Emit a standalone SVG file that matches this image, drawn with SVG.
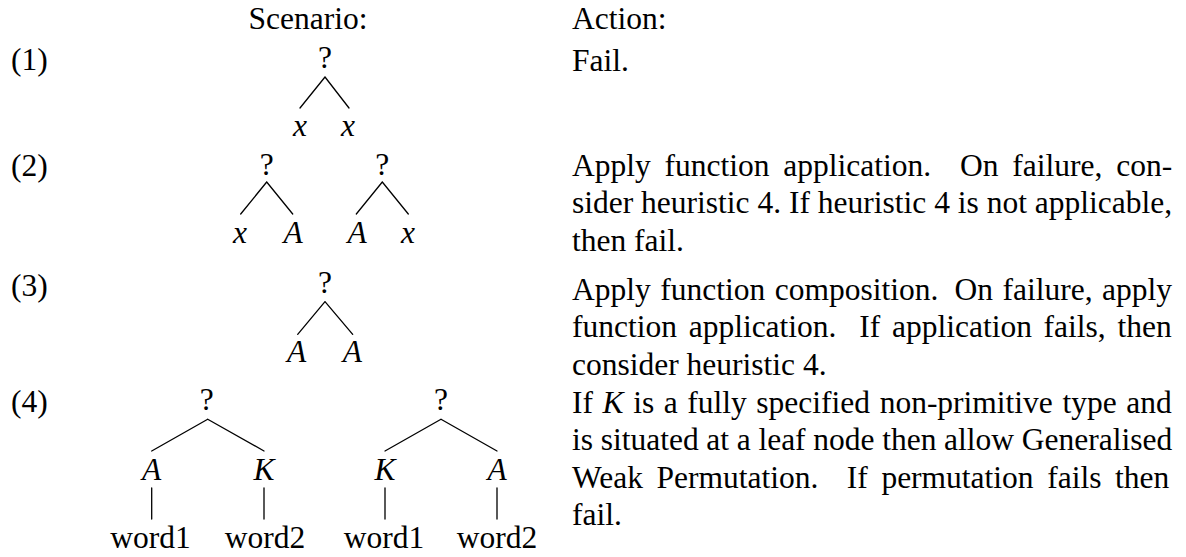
<svg xmlns="http://www.w3.org/2000/svg" width="1186" height="557" viewBox="0 0 1186 557">
  <style>
    text { font-family: "Liberation Serif", "Times New Roman", serif; font-size: 31.5px; fill: #000; }
    .m { font-style: italic; text-anchor: middle; }
    .r { text-anchor: middle; }
    .edge { stroke: #000; stroke-width: 1.3; fill: none; stroke-linecap: round; }
  </style>
  <rect width="1186" height="557" fill="#fff"/>

  <!-- column headings -->
  <g id="headings">
    <text x="308" y="28.5" class="r">Scenario:</text>
    <text x="572" y="28.5">Action:</text>
  </g>

  <!-- row numbers -->
  <g id="row-labels">
    <text x="11" y="70">(1)</text>
    <text x="11" y="175.5">(2)</text>
    <text x="11" y="296">(3)</text>
    <text x="11" y="412">(4)</text>
  </g>

  <!-- tree edges -->
  <g id="connectors">
    <path class="edge" d="M325 77 L300 108 M325 77 L349 108"/>
    <path class="edge" d="M266.7 182 L240.7 214 M266.7 182 L292.7 214"/>
    <path class="edge" d="M382.3 182 L356.3 214 M382.3 182 L408.3 214"/>
    <path class="edge" d="M325 301.7 L297.7 334.3 M325 301.7 L352.7 334.3"/>
    <path class="edge" d="M207.7 419.3 L151.7 451 M207.7 419.3 L264 451"/>
    <path class="edge" d="M441 419.3 L385 451 M441 419.3 L497 451"/>
    <path class="edge" d="M151.7 488 V519 M264 488 V519 M385 488 V519 M497 488 V519"/>
  </g>

  <!-- scenario (1) -->
  <g id="t1-root"><text x="325" y="68" class="r">?</text></g>
  <g id="t1-left"><text x="300" y="136" class="m">x</text></g>
  <g id="t1-right"><text x="348" y="136" class="m">x</text></g>

  <!-- scenario (2) -->
  <g id="t2a-root"><text x="266.7" y="175" class="r">?</text></g>
  <g id="t2a-left"><text x="240" y="243" class="m">x</text></g>
  <g id="t2a-right"><text x="293" y="243" class="m">A</text></g>
  <g id="t2b-root"><text x="382.3" y="175" class="r">?</text></g>
  <g id="t2b-left"><text x="357" y="243" class="m">A</text></g>
  <g id="t2b-right"><text x="408" y="243" class="m">x</text></g>

  <!-- scenario (3) -->
  <g id="t3-root"><text x="325" y="293" class="r">?</text></g>
  <g id="t3-left"><text x="296.7" y="361.5" class="m">A</text></g>
  <g id="t3-right"><text x="352.3" y="361.5" class="m">A</text></g>

  <!-- scenario (4) -->
  <g id="t4a-root"><text x="206.7" y="410" class="r">?</text></g>
  <g id="t4a-left"><text x="151.7" y="480" class="m">A</text></g>
  <g id="t4a-right"><text x="264" y="480" class="m">K</text></g>
  <g id="t4a-w1"><text x="150.5" y="548" class="r">word1</text></g>
  <g id="t4a-w2"><text x="265" y="548" class="r">word2</text></g>
  <g id="t4b-root"><text x="441" y="410" class="r">?</text></g>
  <g id="t4b-left"><text x="385" y="480" class="m">K</text></g>
  <g id="t4b-right"><text x="497" y="480" class="m">A</text></g>
  <g id="t4b-w1"><text x="384" y="548" class="r">word1</text></g>
  <g id="t4b-w2"><text x="497" y="548" class="r">word2</text></g>

  <!-- actions: justified lines, wider gap after a full stop -->
  <g id="actions">
    <text x="572" y="71">Fail.</text>

    <text x="572" y="175.5" word-spacing="5.9">Apply function application. <tspan dx="15.2">On failure, con-</tspan></text>
    <text x="572" y="213">sider heuristic 4. If heuristic 4 is not applicable,</text>
    <text x="572" y="250.5">then fail.</text>

    <text x="572" y="299.5" word-spacing="1.6">Apply function composition. <tspan dx="6.7">On failure, apply</tspan></text>
    <text x="572" y="337" word-spacing="3.8">function application. <tspan dx="11.2">If application fails, then</tspan></text>
    <text x="572" y="374.5">consider heuristic 4.</text>

    <text x="572" y="412.5" word-spacing="1.7">If <tspan font-style="italic">K</tspan> is a fully specified non-primitive type and</text>
    <text x="572" y="450" word-spacing="-0.2">is situated at a leaf node then allow Generalised</text>
    <text x="572" y="487.5" word-spacing="5.7">Weak Permutation. <tspan dx="14.9">If permutation fails then</tspan></text>
    <text x="572" y="525">fail.</text>
  </g>
</svg>
